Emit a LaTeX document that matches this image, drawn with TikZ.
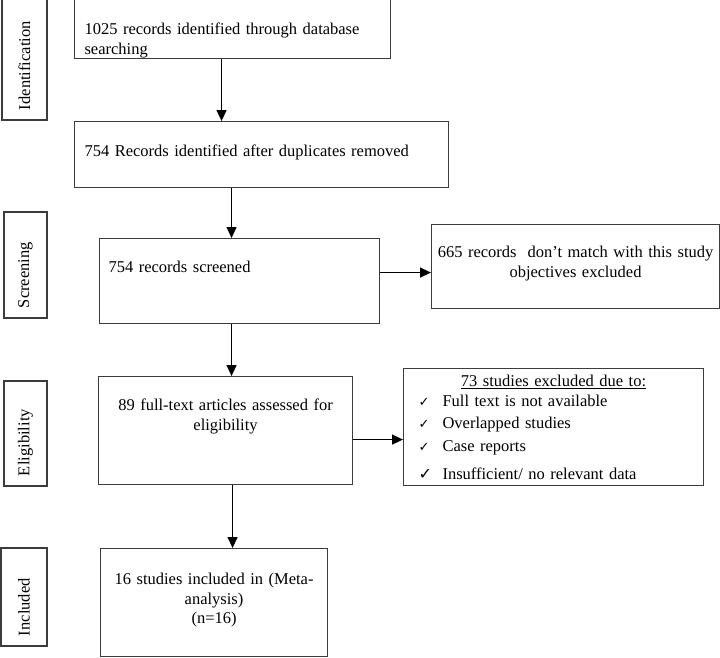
\documentclass[tikz,border=0pt]{standalone}
\usepackage{fontspec}
\setmainfont{Liberation Serif}
\newfontfamily\symfont{DejaVu Sans}
\usepackage{tikz}
\usetikzlibrary{arrows.meta}
\definecolor{boxline}{HTML}{3C3C3C}
\newcommand{\chk}{\makebox[24pt][l]{\symfont\fontsize{13}{12}\selectfont ✓}}
\newcommand{\bigchk}{\makebox[24pt][l]{\symfont\fontsize{16}{12}\selectfont ✓}}
\tikzstyle{stage} = [rectangle, rotate=90, draw=boxline, line width=1.1pt, inner xsep=10pt, align=left, minimum height=45pt, font=\fontsize{16.5}{19.5}\selectfont]
\tikzstyle{process} = [rectangle, anchor=north west, draw=boxline, line width=1.1pt, inner ysep=0pt, font=\fontsize{16.5}{19.5}\selectfont]
\tikzstyle{arrow} = [line width=1.3pt, ->, >={Triangle[length=11pt,width=10pt]}]

\begin{document}
\begin{tikzpicture}[x=1pt, y=-1pt]
      \useasboundingbox (0,0) rectangle (720,657);
      % stages on the left
      \node (ident)[stage, text width=103pt] at (24.5,58.5) {Identification};
      \node (screen)[stage, text width=86pt, minimum height=43pt] at (25.5,265) {Screening};
      \node (eligib)[stage, text width=85pt, minimum height=43pt] at (25.5,433.5) {Eligibility};
      \node (includ)[stage, text width=78pt, minimum height=46pt] at (24,597) {Included};
      % main flow
      \node (rec1)[process, inner xsep=10pt, text width=296pt, align=left, text height=37pt, text depth=24pt] at (74,-3) {1025 records identified through database\\searching};
      \node (rec2)[process, inner xsep=10pt, text width=354pt, align=left, text height=35pt, text depth=31pt] at (74,121) {754 Records identified after duplicates removed};
      \node (scr)[process, inner xsep=9pt, text width=262pt, align=left, text height=34pt, text depth=51pt] at (99,238) {754 records screened};
      \node (excl1)[process, inner xsep=2pt, text width=284pt, align=center, text height=33pt, text depth=51pt] at (431,224) {665 records~ don’t match with this study\\objectives excluded};
      \node (elig)[process, inner xsep=8pt, text width=238pt, align=center, text height=34pt, text depth=74pt] at (98,376) {89 full-text articles assessed for\\eligibility};
      \node (excl2)[process, inner xsep=15pt, text width=270pt, align=left, text height=18pt, text depth=99pt] at (403,368) {\makebox[270pt]{\underline{73 studies excluded due to:}}\\
        \chk Full text is not available\\[2.5pt]
        \chk Overlapped studies\\[3.5pt]
        \chk Case reports\\[8.5pt]
        \bigchk Insufficient/ no relevant data};
      \node (incl)[process, inner xsep=8pt, text width=211pt, align=center, text height=36pt, text depth=72pt] at (100,548) {16 studies included in (Meta-\\analysis)\\(n=16)};
      % connectors
      \draw [arrow] ([xshift=-11pt]rec1.south) -- ([xshift=-11pt]rec1.south |- rec2.north);
      \draw [arrow] ([xshift=-8pt]scr.north |- rec2.south) -- ([xshift=-8pt]scr.north);
      \draw [arrow] ([yshift=8.5pt]scr.east) -- ([yshift=8.5pt]scr.east -| excl1.west);
      \draw [arrow] ([xshift=-8pt]scr.south) -- ([xshift=-8pt]scr.south |- elig.north);
      \draw [arrow] ([yshift=-9pt]elig.east) -- ([yshift=-9pt]elig.east -| excl2.west);
      \draw [arrow] ([xshift=7pt]elig.south) -- ([xshift=7pt]elig.south |- incl.north);
\end{tikzpicture}
\end{document}
